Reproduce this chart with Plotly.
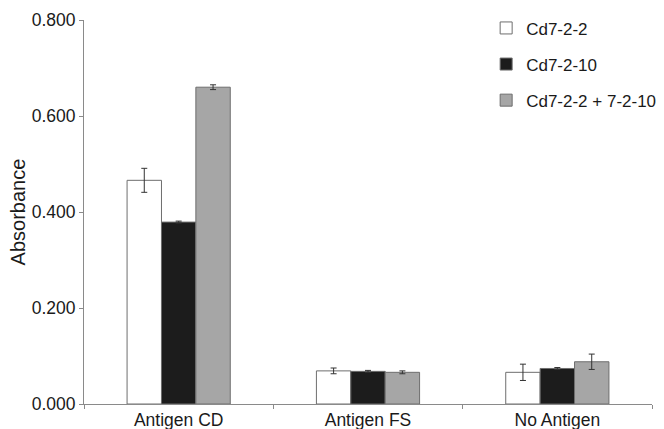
import plotly.graph_objects as go

categories = ["Antigen CD", "Antigen FS", "No Antigen"]
series_names = ["Cd7-2-2", "Cd7-2-10", "Cd7-2-2 + 7-2-10"]
values_a = [0.466, 0.069, 0.066]
errors_a = [0.025, 0.006, 0.017]
values_b = [0.379, 0.068, 0.074]
errors_b = [0.002, 0.002, 0.002]
values_c = [0.660, 0.066, 0.088]
errors_c = [0.005, 0.003, 0.016]
y_ticks = [0.0, 0.2, 0.4, 0.6, 0.8]

colors = ["#ffffff", "#1c1c1c", "#a6a6a6"]
vals = [values_a, values_b, values_c]
errs = [errors_a, errors_b, errors_c]

fig = go.Figure()
for i in range(3):
    fig.add_trace(go.Bar(
        x=categories, y=vals[i], name=series_names[i],
        marker=dict(color=colors[i], line=dict(color="#6e6e6e", width=1)),
        error_y=dict(type="data", array=errs[i], visible=True,
                     color="#333333", thickness=1, width=3),
        legendgroup=str(i),
    ))

fig.update_layout(
    width=664, height=429,
    margin=dict(l=84, r=12, t=20, b=25, autoexpand=False),
    paper_bgcolor="white", plot_bgcolor="white",
    barmode="group", bargap=0.455, bargroupgap=0,
    font=dict(family="Liberation Sans, Arial, sans-serif", color="#1a1a1a"),
    showlegend=True,
    legend=dict(x=0.708, y=1.025, xanchor="left", yanchor="top",
                font=dict(size=17), tracegroupgap=11,
                bgcolor="rgba(0,0,0,0)", itemwidth=30, borderwidth=0),
    xaxis=dict(showline=True, linecolor="#8a8a8a", linewidth=1,
               ticks="outside", tickson="boundaries", ticklen=4,
               tickcolor="#8a8a8a", tickfont=dict(size=17.5),
               showgrid=False, automargin=False),
    yaxis=dict(range=[0, 0.8], tickvals=y_ticks, tickformat=".3f",
               showline=True, linecolor="#8a8a8a", linewidth=1,
               ticks="outside", ticklen=4, tickcolor="#8a8a8a",
               tickfont=dict(size=17.5), showgrid=False, zeroline=False,
               automargin=False,
               title=dict(text="Absorbance", font=dict(size=20), standoff=0)),
)

fig.write_html("out.html", config={"displayModeBar": False},
               post_script="document.body.style.margin='0';")
